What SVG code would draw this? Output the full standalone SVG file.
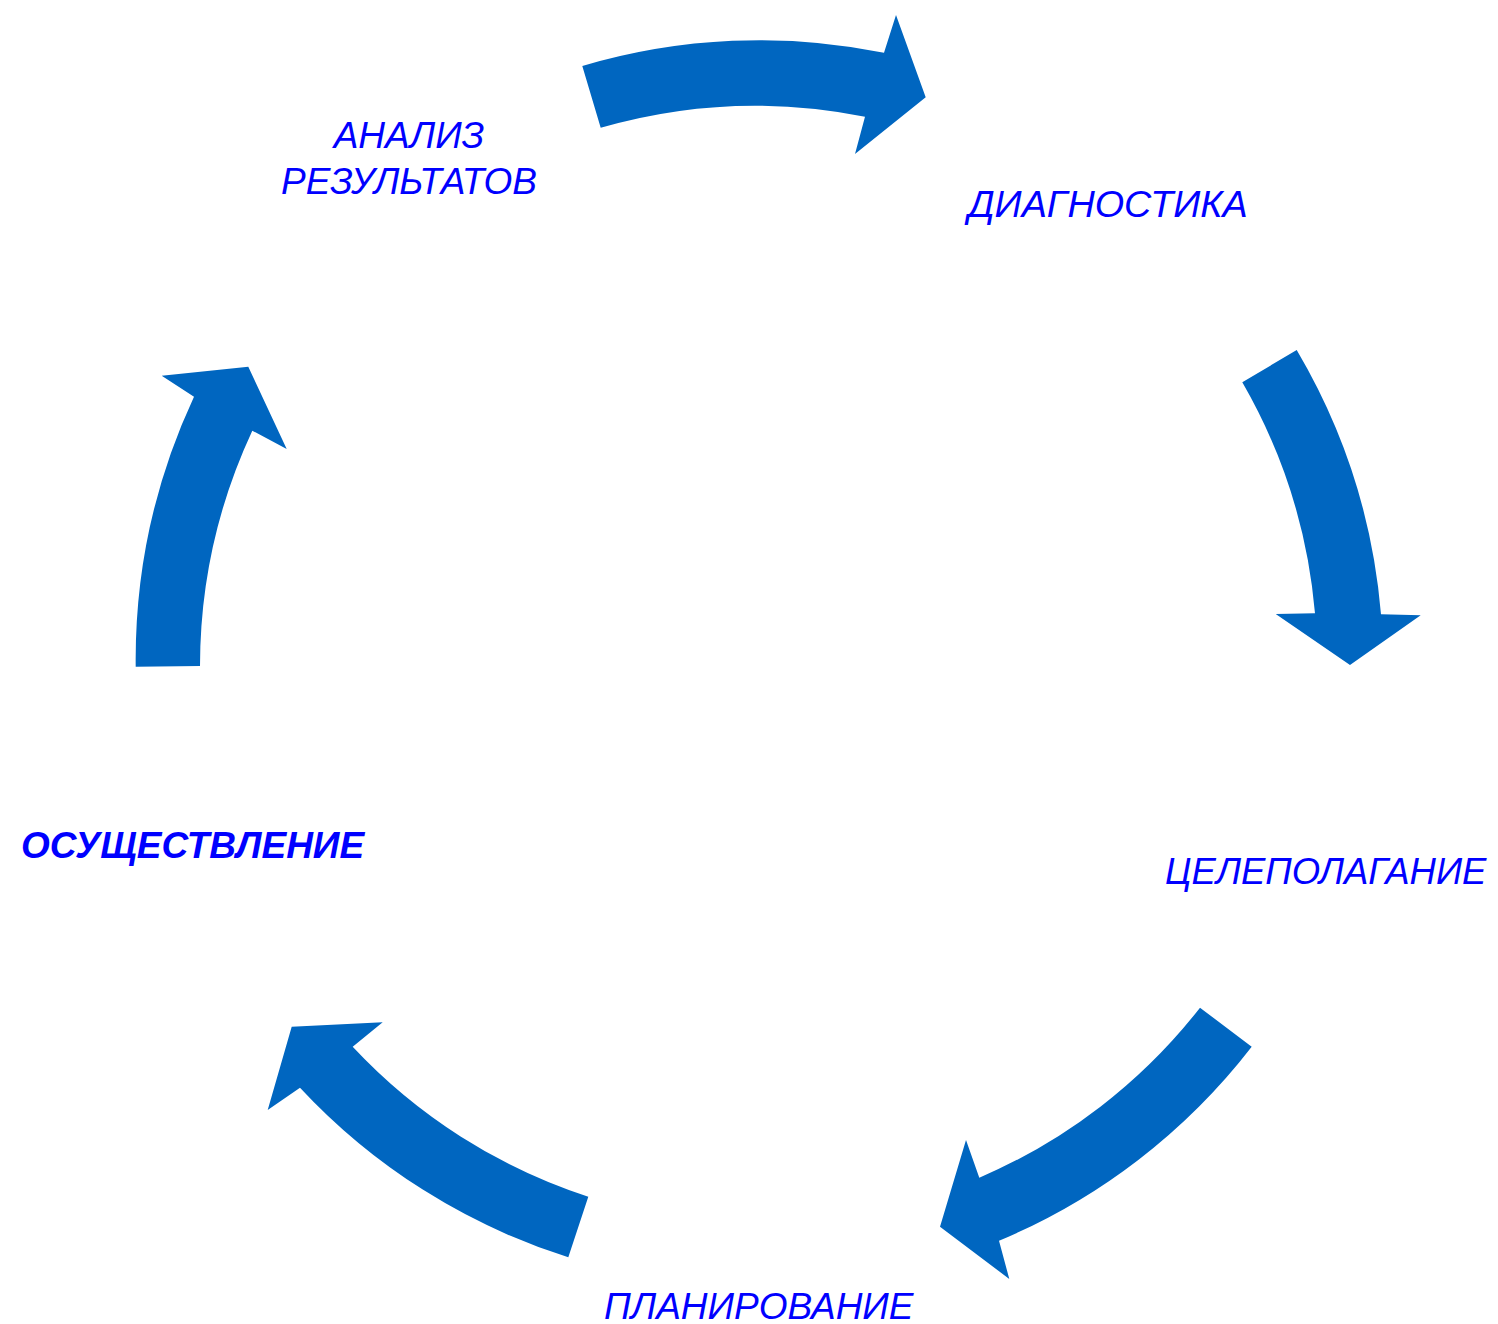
<svg xmlns="http://www.w3.org/2000/svg" width="1498" height="1324" viewBox="0 0 1498 1324">
<style>
.arrow{fill:#0066C0;stroke:none}
.lbl{font-family:"Liberation Sans",Arial,sans-serif;font-style:italic;fill:#0000FF}
.b{font-weight:bold}
</style>
<rect width="1498" height="1324" fill="#FFFFFF"/>
<g id="connectors">
<path id="arrow-top" class="arrow" d="M582.3,66 A623,623 0 0 1 884,52.7 L896,15 L925.7,97.3 L855,154 L865,116.7 A559,559 0 0 0 600.7,127.7 Z"/>
<path id="arrow-right" class="arrow" d="M1296.7,350 A623,623 0 0 1 1381,614.3 L1420.7,615.3 L1350,665 L1275.7,614 L1315,613.3 A559,559 0 0 0 1242.3,382.3 Z"/>
<path id="arrow-bottom-right" class="arrow" d="M1251.7,1046.7 A623,623 0 0 1 999,1240.7 L1009.3,1279 L940,1226.7 L966,1140 L979.3,1177.7 A559,559 0 0 0 1200,1007.7 Z"/>
<path id="arrow-bottom-left" class="arrow" d="M568.3,1257.3 A623,623 0 0 1 300,1087.7 L267.7,1110 L291.7,1026.7 L382.7,1022.3 L352.7,1046.7 A559,559 0 0 0 588.3,1196.7 Z"/>
<path id="arrow-left" class="arrow" d="M135.7,666.7 A623,623 0 0 1 194,396.7 L161.7,375.7 L248.3,366.7 L286.7,449 L252.3,430.7 A559,559 0 0 0 200,666 Z"/>
</g>
<g id="node-analiz">
<text class="lbl" font-size="37" text-anchor="middle"><tspan x="409" y="147.5">АНАЛИЗ</tspan><tspan x="409" y="193.5">РЕЗУЛЬТАТОВ</tspan></text>
</g>
<g id="node-diagnostika">
<text class="lbl" font-size="37.8" x="968" y="216.5">ДИАГНОСТИКА</text>
</g>
<g id="node-celepolaganie">
<text class="lbl" font-size="36.5" x="1165" y="883.5">ЦЕЛЕПОЛАГАНИЕ</text>
</g>
<g id="node-planirovanie">
<text class="lbl" font-size="37" x="604" y="1318.5">ПЛАНИРОВАНИЕ</text>
</g>
<g id="node-osushchestvlenie">
<text class="lbl b" font-size="37" x="21" y="858">ОСУЩЕСТВЛЕНИЕ</text>
</g>
</svg>
